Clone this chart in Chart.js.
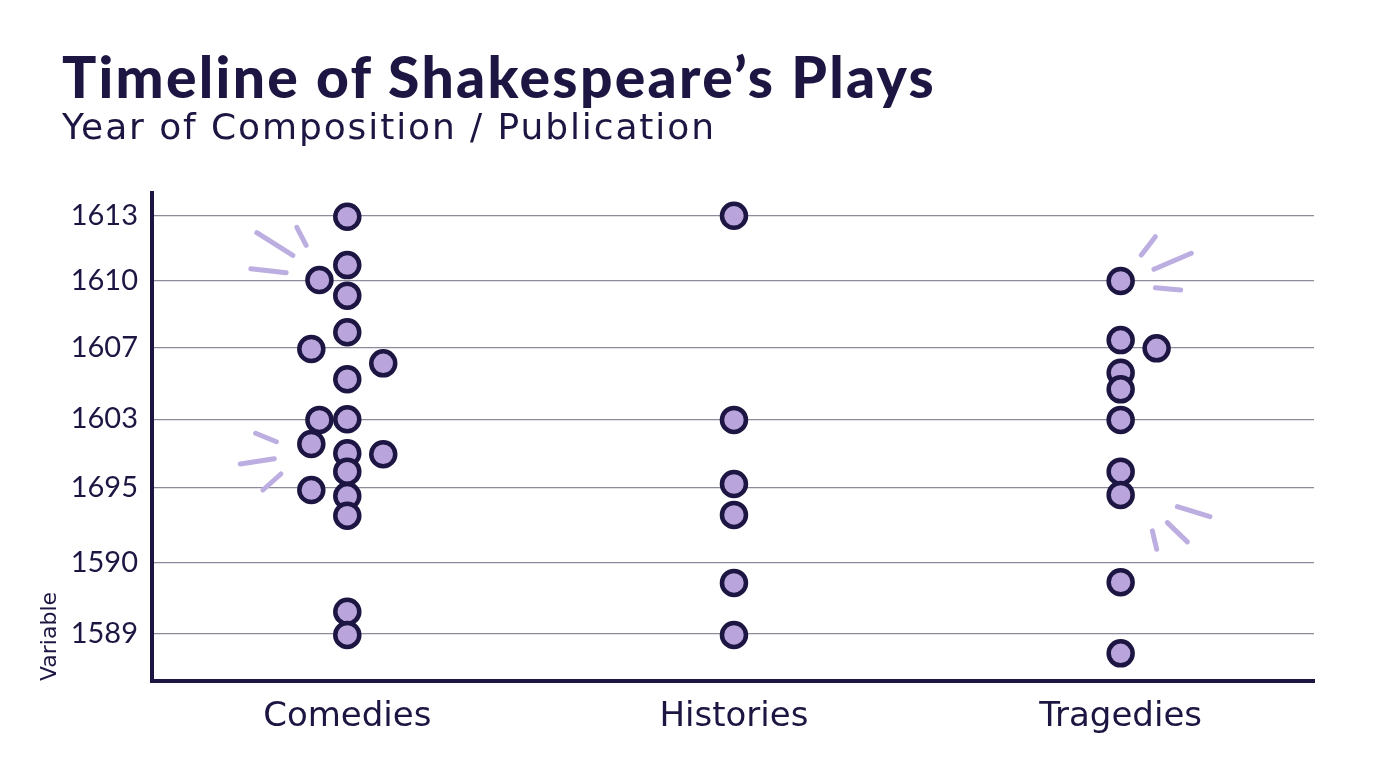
<!DOCTYPE html>
<html>
<head>
<meta charset="utf-8">
<script src="https://cdn.jsdelivr.net/npm/chart.js@4.4.1/dist/chart.umd.min.js"></script>
<style>
  html, body { margin:0; padding:0; background:#ffffff; width:1376px; height:768px; overflow:hidden; }
  #wrap { position:relative; width:1376px; height:768px; }
  #title { position:absolute; left:62px; top:48px; font-family:Lato, 'Open Sans', sans-serif; font-weight:900; font-size:57px; letter-spacing:2.3px; line-height:1; color:#1d1642; white-space:nowrap; }
  #subtitle { position:absolute; left:62px; top:109px; font-family:'DejaVu Sans', sans-serif; font-weight:400; font-size:36px; letter-spacing:1.9px; line-height:1; color:#1d1642; white-space:nowrap; }
  canvas { position:absolute; left:0; top:0; }
</style>
</head>
<body>
<div id="wrap">
  <canvas id="chart" width="1376" height="768"></canvas>
  <div id="title">Timeline of Shakespeare’s Plays</div>
  <div id="subtitle">Year of Composition / Publication</div>
</div>
<script>
// ---- data ----
const categories = ['Comedies', 'Histories', 'Tragedies'];
const yTickValues = [1613, 1609, 1604.9, 1600.5, 1596.3, 1591.7, 1587.3];
const yTickLabels = ['1613', '1610', '1607', '1603', '1695', '1590', '1589'];

const comediesYears   = [1612.94, 1609.97, 1609.05, 1608.09, 1605.84, 1604.81, 1603.93, 1602.95, 1600.45, 1600.49, 1598.97, 1598.40, 1598.34, 1597.27, 1596.14, 1595.77, 1594.56, 1588.66, 1587.23];
const comediesOffsets = [0, 0, -0.072, 0, 0, -0.093, 0.093, 0, -0.072, 0, -0.093, 0, 0.093, 0, -0.093, 0, 0, 0, 0];

const historiesYears   = [1613.0, 1600.45, 1596.51, 1594.61, 1590.43, 1587.23];
const historiesOffsets = [0, 0, 0, 0, 0, 0];

const tragediesYears   = [1608.99, 1605.36, 1604.85, 1603.35, 1602.33, 1600.45, 1597.27, 1595.84, 1590.47, 1586.10];
const tragediesOffsets = [0, 0, 0.093, 0, 0, 0, 0, 0, 0, 0];

// ---- style ----
const NAVY = '#1d1642';
const LAVENDER = '#b9a5dc';
const FONT = 'Lato, "Open Sans", sans-serif';
const WIDE_FONT = '"DejaVu Sans", sans-serif';

function makePoints(catIndex, years, offsets) {
  return years.map((y, i) => ({ x: catIndex + offsets[i], y: y }));
}

// decorative sparkle strokes, anchored to data points (offsets in px)
const sparkles = [
  { ds: 0, idx: 2, segs: [[-62.6,-47.3,-26.6,-24.7], [-22.6,-52.7,-13.3,-34.7], [-68.6,-11.3,-33.3,-7.3]] },
  { ds: 0, idx: 10, segs: [[-55.7,-10.7,-35,-2.3], [-71,20,-37,14.7], [-48.4,46,-30.4,30]] },
  { ds: 2, idx: 0, segs: [[20.7,-26,34.7,-44.3], [33.3,-11.7,70.7,-27.7], [34.7,6.7,60,9]] },
  { ds: 2, idx: 7, segs: [[56.7,11.7,89.3,21.7], [46.7,27.7,66.7,47], [31.7,36,36,54.3]] }
];

const sparklePlugin = {
  id: 'sparkles',
  beforeDatasetsDraw(chart) {
    const ctx = chart.ctx;
    ctx.save();
    ctx.strokeStyle = '#bcaee0';
    ctx.lineWidth = 5;
    ctx.lineCap = 'round';
    sparkles.forEach(sp => {
      const pt = chart.data.datasets[sp.ds].data[sp.idx];
      const px = chart.scales.x.getPixelForValue(pt.x);
      const py = chart.scales.y.getPixelForValue(pt.y);
      sp.segs.forEach(s => {
        ctx.beginPath();
        ctx.moveTo(px + s[0], py + s[1]);
        ctx.lineTo(px + s[2], py + s[3]);
        ctx.stroke();
      });
    });
    ctx.restore();
  }
};

const pointStyle = {
  showLine: false,
  pointRadius: 12,
  pointHoverRadius: 12,
  pointBorderWidth: 4.5,
  pointBackgroundColor: LAVENDER,
  pointBorderColor: NAVY
};

new Chart(document.getElementById('chart'), {
  type: 'scatter',
  data: {
    datasets: [
      Object.assign({ label: categories[0], data: makePoints(0, comediesYears, comediesOffsets) }, pointStyle),
      Object.assign({ label: categories[1], data: makePoints(1, historiesYears, historiesOffsets) }, pointStyle),
      Object.assign({ label: categories[2], data: makePoints(2, tragediesYears, tragediesOffsets) }, pointStyle)
    ]
  },
  options: {
    responsive: false,
    animation: false,
    layout: { padding: { top: 193, right: 62, bottom: 0, left: 0 } },
    plugins: { legend: { display: false }, tooltip: { enabled: false } },
    scales: {
      x: {
        type: 'linear',
        min: -0.505,
        max: 2.5,
        afterBuildTicks: s => { s.ticks = categories.map((c, i) => ({ value: i })); },
        afterFit: s => { s.height = 87; },
        grid: { display: false, drawTicks: false },
        border: { display: true, color: NAVY, width: 4 },
        ticks: {
          padding: 16,
          color: NAVY,
          font: { family: WIDE_FONT, size: 34 },
          callback: v => categories[v] !== undefined ? categories[v] : ''
        }
      },
      y: {
        type: 'linear',
        min: 1584.4,
        max: 1614.4,
        afterBuildTicks: s => { s.ticks = yTickValues.map(v => ({ value: v })); },
        afterFit: s => { s.width = 152; },
        grid: { color: '#8d8b9b', lineWidth: 1.2, drawTicks: false },
        border: { display: true, color: NAVY, width: 4 },
        ticks: {
          padding: 14,
          color: NAVY,
          font: { family: FONT, size: 29 },
          callback: v => { const k = yTickValues.indexOf(v); return k >= 0 ? yTickLabels[k] : ''; }
        },
        title: {
          display: true,
          text: 'Variable',
          align: 'start',
          color: NAVY,
          font: { family: WIDE_FONT, size: 22 },
          padding: { top: 37, bottom: 0 }
        }
      }
    }
  },
  plugins: [sparklePlugin]
});
</script>
</body>
</html>
